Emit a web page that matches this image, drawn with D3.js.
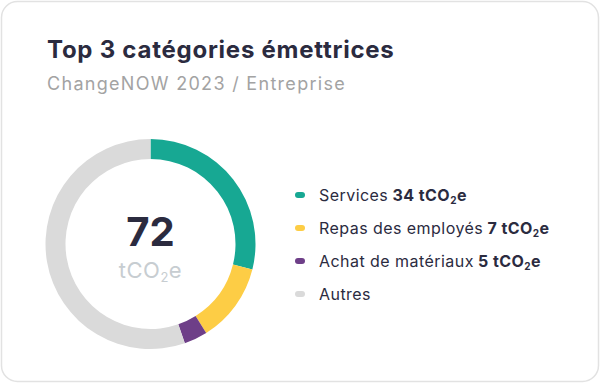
<!DOCTYPE html>
<html>
<head>
<meta charset="utf-8">
<script src="https://cdn.jsdelivr.net/npm/d3@7"></script>
<style>
  html, body { margin: 0; padding: 0; background: #ffffff; }
  svg { display: block; font-family: Inter, "Noto Sans", sans-serif; }
</style>
</head>
<body>
<svg id="chart" width="600" height="383"></svg>
<script>
// chart data
var categories = ['Services', 'Repas des employés', 'Achat de matériaux', 'Autres'];
var emissions = [34, 7, 5, null];          // tCO2e shown in the legend
var arcShares = [28.9, 12.2, 3.6, 55.3];   // ring shares as drawn (%)
var total = 72;
var unitLabel = 'tCO';

var color = {
  services: '#17A893',
  repas: '#FDCD45',
  achat: '#6E3F88',
  autres: '#DADADA',
  ink: '#2B2B3F',
  sub: '#A3A3A3',
  unit: '#C7CDD1'
};
var palette = [color.services, color.repas, color.achat, color.autres];

var svg = d3.select('#chart');

// card
svg.append('rect')
  .attr('x', 1.5).attr('y', 1.5)
  .attr('width', 597).attr('height', 380)
  .attr('rx', 16)
  .attr('fill', '#ffffff')
  .attr('stroke', '#E2E2E2')
  .attr('stroke-width', 1.5);

// titles
svg.append('text')
  .attr('x', 47).attr('y', 58)
  .attr('font-size', 24).attr('font-weight', 700)
  .attr('letter-spacing', 0.75)
  .attr('fill', color.ink)
  .text('Top 3 catégories émettrices');

svg.append('text')
  .attr('x', 47).attr('y', 90)
  .attr('font-size', 18)
  .attr('letter-spacing', 1.3)
  .attr('fill', color.sub)
  .text('ChangeNOW 2023 / Entreprise');

// donut
var cx = 150.5, cy = 244;
var pie = d3.pie().sort(null).value(function(d) { return d; });
var arc = d3.arc().innerRadius(85).outerRadius(105);

var ring = svg.append('g').attr('transform', 'translate(' + cx + ',' + cy + ')');
ring.selectAll('path')
  .data(pie(arcShares))
  .enter().append('path')
  .attr('d', arc)
  .attr('fill', function(d, i) { return palette[i]; });

ring.append('text')
  .attr('y', 2)
  .attr('text-anchor', 'middle')
  .attr('font-size', 40).attr('font-weight', 700)
  .attr('fill', color.ink)
  .text(total);

var unit = ring.append('text')
  .attr('y', 34)
  .attr('text-anchor', 'middle')
  .attr('font-size', 22)
  .attr('letter-spacing', 0.5)
  .attr('fill', color.unit);
unit.append('tspan').text(unitLabel);
unit.append('tspan').attr('font-size', 13).attr('dy', 4).text('2');
unit.append('tspan').attr('dy', -4).text('e');

// legend
var legend = svg.append('g').attr('transform', 'translate(300,195)');
var rows = legend.selectAll('g')
  .data(categories)
  .enter().append('g')
  .attr('transform', function(d, i) { return 'translate(0,' + (i * 33) + ')'; });

rows.append('rect')
  .attr('x', -5).attr('y', -3)
  .attr('width', 10).attr('height', 6)
  .attr('rx', 3)
  .attr('fill', function(d, i) { return palette[i]; });

var label = rows.append('text')
  .attr('x', 19).attr('y', 5.5)
  .attr('font-size', 16)
  .attr('letter-spacing', 0.45)
  .attr('fill', color.ink);
label.append('tspan').text(function(d) { return d; });
label.each(function(d, i) {
  if (emissions[i] == null) return;
  var t = d3.select(this);
  t.append('tspan').attr('font-weight', 700).text(' ' + emissions[i] + ' ' + unitLabel);
  t.append('tspan').attr('font-weight', 700).attr('font-size', 10).attr('dy', 3).text('2');
  t.append('tspan').attr('font-weight', 700).attr('dy', -3).text('e');
});
</script>
</body>
</html>
